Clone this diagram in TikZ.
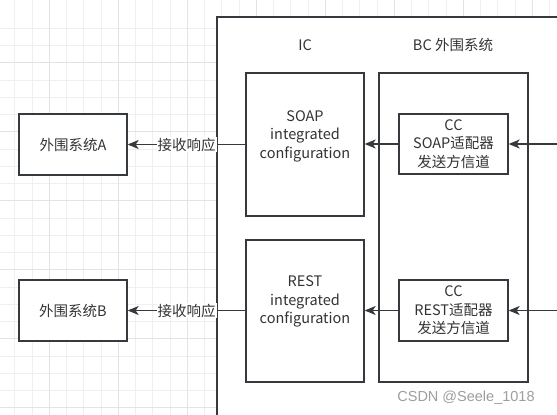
\documentclass[tikz,border=0pt]{standalone}
\usepackage{fontspec}
\setmainfont{Noto Sans CJK SC}
\newfontfamily\wmfont{Liberation Sans}
\usetikzlibrary{arrows.meta}
\definecolor{edge}{HTML}{36393D}
\definecolor{txt}{HTML}{333333}
\definecolor{gridminor}{HTML}{EFEFEF}
\definecolor{gridmajor}{HTML}{E3E3E3}
\tikzset{
  x=1pt, y=-1pt,
  box/.style={draw=edge, line width=1.3pt, fill=white, text=txt, align=center,
    inner sep=0pt, font=\fontsize{14.5}{18.5}\selectfont},
  inner/.style={text=txt, align=center, inner sep=0pt, font=\fontsize{14.5}{18.5}\selectfont},
  conn/.style={draw=edge, line width=1.3pt, -{Stealth[length=11pt,width=9pt,inset=3pt]}},
  lbl/.style={fill=white, text=txt, inner sep=1pt, font=\fontsize{14.5}{18}\selectfont},
  title/.style={text=txt, font=\fontsize{14.5}{18}\selectfont}
}
\begin{document}
\begin{tikzpicture}
\useasboundingbox (0,0) rectangle (557,415);
\clip (0,0) rectangle (557,415);
% background grid
\fill[white] (0,0) rectangle (557,415);
\foreach \i in {-2,...,34} {
  \draw[gridminor, line width=0.8pt] ({49.3+17.25*\i},0) -- ({49.3+17.25*\i},415);
  \draw[gridminor, line width=0.8pt] (0,{62.7+17.25*\i}) -- (557,{62.7+17.25*\i});
}
\foreach \i in {-1,...,8} {
  \draw[gridmajor, line width=0.9pt] ({49.3+69*\i},0) -- ({49.3+69*\i},415);
  \draw[gridmajor, line width=0.9pt] (0,{62.7+69*\i}) -- (557,{62.7+69*\i});
}
% outer container
\draw[edge, line width=1.3pt, fill=white] (217,17) rectangle (620,470);
\node[title] (ic) at (305,45) {IC};
\node[title] (bct) at (453,45) {BC 外围系统};
% BC box
\node[box, minimum width=149pt, minimum height=309pt] (bc) at (453.5,227.5) {};
% IC boxes
\node[box, minimum width=118pt, minimum height=143pt] (soap) at (305,144.5) {};
\node[inner] (soapt) at (305,136) {SOAP\\integrated\\configuration};
\node[box, minimum width=118pt, minimum height=142pt] (rest) at (305,311) {};
\node[inner] (restt) at (305,301.5) {REST\\integrated\\configuration};
% CC boxes
\node[box, minimum width=109pt, minimum height=60pt] (ccs) at (453.5,144) {CC\\SOAP适配器\\发送方信道};
\node[box, minimum width=109pt, minimum height=61pt] (ccr) at (453.5,310.5) {CC\\REST适配器\\发送方信道};
% external boxes
\node[box, minimum width=108pt, minimum height=61pt] (exa) at (73,144.5) {外围系统A};
\node[box, minimum width=108pt, minimum height=61pt] (exb) at (73,310.5) {外围系统B};
% incoming ends
\coordinate (ina) at (560,144);
\coordinate (inb) at (560,310.5);
% connectors
\draw[conn] (ina) -- (ccs.east);
\draw[conn] (inb) -- (ccr.east);
\draw[conn] (ccs.west) -- (soap.east |- ccs.west);
\draw[conn] (ccr.west) -- (rest.east |- ccr.west);
\draw[conn] (soap.west |- exa.east) -- node[lbl, pos=0.5] {接收响应} (exa.east);
\draw[conn] (rest.west |- exb.east) -- node[lbl, pos=0.5] {接收响应} (exb.east);
% watermark
\node[text=black!38, font=\wmfont\fontsize{14.5}{16}\selectfont] (wm) at (466,398) {CSDN @Seele\_1018};
\end{tikzpicture}
\end{document}
